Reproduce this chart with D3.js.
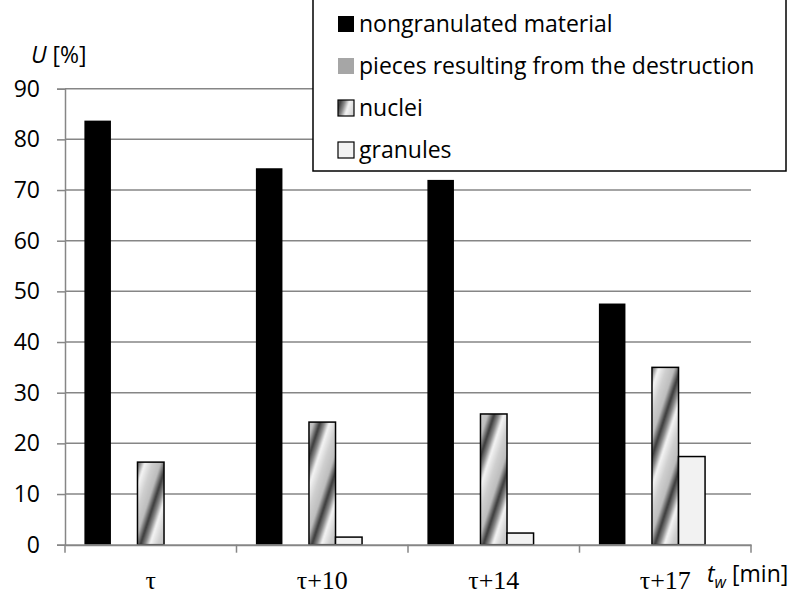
<!DOCTYPE html>
<html>
<head>
<meta charset="utf-8">
<script src="https://cdn.jsdelivr.net/npm/d3@7"></script>
<style>
  body { margin: 0; background: #fff; }
  text { font-family: "Open Sans", sans-serif; }
</style>
</head>
<body>
<div id="chart"></div>
<script>
const categories = ["τ", "τ+10", "τ+14", "τ+17"];
const seriesNames = ["nongranulated material", "pieces resulting from the destruction", "nuclei", "granules"];
const nongranulated = [83.7, 74.3, 72.0, 47.6];
const pieces = [0, 0, 0, 0];
const nuclei = [16.3, 24.2, 25.8, 35.0];
const granules = [0, 1.5, 2.3, 17.4];
const yTicks = [0, 10, 20, 30, 40, 50, 60, 70, 80, 90];

const seriesValues = [nongranulated, pieces, nuclei, granules];

const w = 790;
const h = 610;
const plotLeft = 65, plotRight = 751, plotTop = 88.7, plotBottom = 544.7;

const svg = d3
  .select("#chart")
  .append("svg")
  .attr("width", w)
  .attr("height", h);

const defs = svg.append("defs");

// diagonal metallic gradient used for the nuclei bars
const grad = defs
  .append("linearGradient")
  .attr("id", "nucleiGrad")
  .attr("x1", "0")
  .attr("y1", "0")
  .attr("x2", "1")
  .attr("y2", "0");
[
  [0, "#3a3a3a"],
  [0.15, "#8a8a8a"],
  [0.3, "#f4f4f4"],
  [0.55, "#cfcfcf"],
  [0.8, "#bdbdbd"],
  [1, "#3a3a3a"]
].forEach(([o, c]) => grad.append("stop").attr("offset", o).attr("stop-color", c));

defs
  .append("pattern")
  .attr("id", "nucleiFill")
  .attr("patternUnits", "userSpaceOnUse")
  .attr("width", 30)
  .attr("height", 400)
  .attr("patternTransform", "rotate(18)")
  .append("rect")
  .attr("width", 30)
  .attr("height", 400)
  .attr("fill", "url(#nucleiGrad)");

const fills = ["#000000", "#a6a6a6", "url(#nucleiFill)", "#f2f2f2"];
const strokes = ["none", "none", "#000", "#000"];

const x0 = d3.scaleBand().domain(categories).range([plotLeft, plotRight]);
const pad = 19.4;
// Excel leaves room for five slots per group; four series fill the first four
const slot = (x0.bandwidth() - 2 * pad) / 5;
const x1 = d3
  .scaleBand()
  .domain(seriesNames)
  .range([pad, pad + slot * seriesNames.length]);

const y = d3.scaleLinear().domain([0, 90]).range([plotBottom, plotTop]);

// gridlines
svg
  .append("g")
  .selectAll("line")
  .data(yTicks.slice(1))
  .enter()
  .append("line")
  .attr("x1", plotLeft)
  .attr("x2", plotRight)
  .attr("y1", (d) => y(d))
  .attr("y2", (d) => y(d))
  .attr("stroke", "#868686")
  .attr("stroke-width", 1.5);

// y axis
const yAxis = svg
  .append("g")
  .attr("transform", `translate(${plotLeft},0)`)
  .call(d3.axisLeft(y).tickValues(yTicks).tickSize(8).tickPadding(17));
yAxis.select(".domain").attr("stroke", "#868686").attr("stroke-width", 1.5);
yAxis.selectAll(".tick line").attr("stroke", "#868686").attr("stroke-width", 1.5);
yAxis
  .selectAll(".tick text")
  .attr("font-family", "Open Sans")
  .attr("font-size", 23)
  .attr("fill", "#000");

// bars
const groups = svg
  .append("g")
  .selectAll("g")
  .data(categories)
  .enter()
  .append("g")
  .attr("transform", (d) => `translate(${x0(d)},0)`);

seriesNames.forEach((name, si) => {
  groups
    .append("rect")
    .attr("x", x1(name))
    .attr("width", x1.bandwidth())
    .attr("y", (d, i) => y(seriesValues[si][i]))
    .attr("height", (d, i) => plotBottom - y(seriesValues[si][i]))
    .attr("fill", fills[si])
    .attr("stroke", strokes[si])
    .attr("stroke-width", 1.5)
    .attr("display", (d, i) => (seriesValues[si][i] > 0 ? null : "none"));
});

// x axis
const xAxis = svg
  .append("g")
  .attr("transform", `translate(0,${plotBottom})`)
  .call(d3.axisBottom(x0).tickSize(0).tickFormat(""));
xAxis.select(".domain").attr("stroke", "#868686").attr("stroke-width", 2);
xAxis
  .selectAll("line.sep")
  .data(categories.map((c) => x0(c)).concat([plotRight]))
  .enter()
  .append("line")
  .attr("class", "sep")
  .attr("x1", (d) => d)
  .attr("x2", (d) => d)
  .attr("y1", 0)
  .attr("y2", 8)
  .attr("stroke", "#868686")
  .attr("stroke-width", 1.5);

svg
  .append("g")
  .selectAll("text")
  .data(categories)
  .enter()
  .append("text")
  .attr("x", (d) => x0(d) + x0.bandwidth() / 2)
  .attr("y", 589)
  .attr("text-anchor", "middle")
  .style("font-family", "'Liberation Serif', serif")
  .attr("font-size", 26)
  .text((d) => d);

// axis titles
const yTitle = svg.append("text").attr("x", 31).attr("y", 63).attr("font-size", 23);
yTitle.append("tspan").attr("font-style", "italic").text("U");
yTitle.append("tspan").text(" [%]");

const xTitle = svg.append("text").attr("x", 707).attr("y", 582).attr("font-size", 23);
xTitle.append("tspan").attr("font-style", "italic").text("t");
xTitle.append("tspan").attr("font-style", "italic").attr("font-size", 16).attr("dy", 6).text("w");
xTitle.append("tspan").attr("dy", -6).text(" [min]");

// legend
const legend = svg.append("g").attr("id", "legend");
legend
  .append("rect")
  .attr("x", 313)
  .attr("y", -1)
  .attr("width", 473)
  .attr("height", 172)
  .attr("fill", "#fff")
  .attr("stroke", "#000")
  .attr("stroke-width", 1.5);

const item = legend
  .selectAll("g")
  .data(seriesNames)
  .enter()
  .append("g")
  .attr("transform", (d, i) => `translate(338, ${24 + i * 42})`);

item
  .append("rect")
  .attr("x", 0)
  .attr("y", -8)
  .attr("width", 16)
  .attr("height", 16)
  .attr("fill", (d, i) => fills[i])
  .attr("stroke", (d, i) => (strokes[i] === "none" ? "none" : "#000"))
  .attr("stroke-width", 1.2);

item
  .append("text")
  .attr("x", 21)
  .attr("y", 8)
  .attr("font-size", 23)
  .text((d) => d);
</script>
</body>
</html>
